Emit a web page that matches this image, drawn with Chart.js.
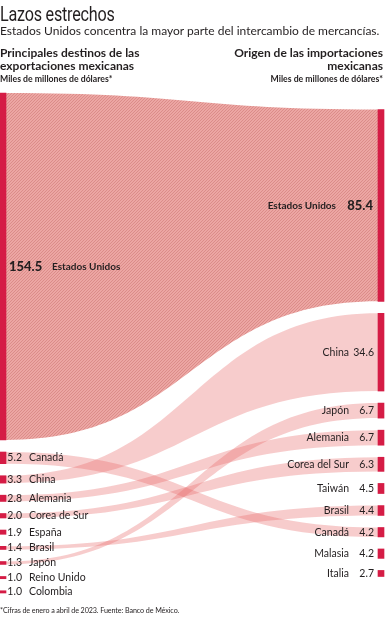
<!DOCTYPE html>
<html lang="es">
<head>
<meta charset="utf-8">
<title>Lazos estrechos</title>
<script src="https://cdn.jsdelivr.net/npm/chart.js@4"></script>
<style>
  body { margin: 0; background: #fff; font-family: Lato, "Open Sans", sans-serif; color: #231f20; }
  #wrap { position: relative; width: 386px; height: 620px; overflow: hidden; }
  #chartBox { position: absolute; left: 0; top: 0; width: 386px; height: 620px; }
  .t { position: absolute; white-space: nowrap; }
  #title { left: 0; top: 4px; font: 400 21px/21px Roboto, sans-serif; transform: scaleX(0.77); transform-origin: left top; letter-spacing: -0.3px; }
  #sub { left: 0; top: 25px; font: 400 12px/12px Lato, sans-serif; }
  .head { top: 47px; font: 700 12px/12.5px Lato, sans-serif; }
  .unit { top: 75px; font: 700 8.7px/8.7px Lato, sans-serif; }
  #foot { left: 0; top: 607px; font: 400 7.2px/7.5px Lato, sans-serif; letter-spacing: -0.1px; }
</style>
</head>
<body>
<div id="wrap">
  <div id="chartBox"><canvas id="sankey"></canvas></div>
  <div class="t" id="title">Lazos estrechos</div>
  <div class="t" id="sub">Estados Unidos concentra la mayor parte del intercambio de mercancías.</div>
  <div class="t head" style="left:0">Principales destinos de las<br>exportaciones mexicanas</div>
  <div class="t unit" style="left:0">Miles de millones de dólares*</div>
  <div class="t head" style="right:3px;text-align:right">Origen de las importaciones<br>mexicanas</div>
  <div class="t unit" style="right:3px;text-align:right">Miles de millones de dólares*</div>
  <div class="t" id="foot">*Cifras de enero a abril de 2023. Fuente: Banco de México.</div>
</div>
<script>
// exports by destination (left) and imports by origin (right), billions of dollars
const expCountries = ["Estados Unidos", "Canadá", "China", "Alemania", "Corea de Sur", "España", "Brasil", "Japón", "Reino Unido", "Colombia"];
const expValues = [154.5, 5.2, 3.3, 2.8, 2.0, 1.9, 1.4, 1.3, 1.0, 1.0];
const impCountries = ["Estados Unidos", "China", "Japón", "Alemania", "Corea del Sur", "Taiwán", "Brasil", "Canadá", "Malasia", "Italia"];
const impValues = [85.4, 34.6, 6.7, 6.7, 6.3, 4.5, 4.4, 4.2, 4.2, 2.7];
// which left node links to which right node
const flowFrom = ["Estados Unidos", "Canadá", "China", "Alemania", "Corea de Sur", "Brasil", "Japón"];
const flowTo = ["Estados Unidos", "Canadá", "China", "Alemania", "Corea del Sur", "Brasil", "Japón"];

const GAP = 5.36;   // space between nodes, in value units
const BAR = 6;      // node bar width in px
const NODE_COLOR = "#d51c45";
const FLOW_COLOR = "rgba(232, 105, 105, 0.34)";
const TEXT = "#231f20";

const sum = arr => arr.reduce((a, b) => a + b, 0);
const leftSpan = sum(expValues) + GAP * (expValues.length - 1);
const rightSpan = sum(impValues) + GAP * (impValues.length - 1);

function stack(values, start) {
  let y = start;
  return values.map(v => {
    const r = [y, y + v];
    y += v + GAP;
    return r;
  });
}
const leftNodes = stack(expValues, 0);
const rightNodes = stack(impValues, (leftSpan - rightSpan) / 2);

function makeHatch() {
  const c = document.createElement("canvas");
  c.width = 6; c.height = 6;
  const g = c.getContext("2d");
  g.fillStyle = "#eca6a3";
  g.fillRect(0, 0, 6, 6);
  g.strokeStyle = "#db8c89";
  g.lineWidth = 1;
  g.beginPath();
  for (let k = -6; k <= 12; k += 3) {
    g.moveTo(k, 6);
    g.lineTo(k + 6, 0);
  }
  g.stroke();
  return g.createPattern(c, "repeat");
}

const flowPlugin = {
  id: "flows",
  beforeDatasetsDraw(chart) {
    const { ctx, scales: { x, y } } = chart;
    const x0 = x.getPixelForValue(0) + BAR / 2;
    const x1 = x.getPixelForValue(1) - BAR / 2;
    const xm = (x0 + x1) / 2;
    const hatch = makeHatch();
    ctx.save();
    flowFrom.forEach((from, i) => {
      const l = leftNodes[expCountries.indexOf(from)];
      const r = rightNodes[impCountries.indexOf(flowTo[i])];
      const la = y.getPixelForValue(l[0]), lb = y.getPixelForValue(l[1]);
      const ra = y.getPixelForValue(r[0]), rb = y.getPixelForValue(r[1]);
      ctx.beginPath();
      ctx.moveTo(x0, la);
      ctx.bezierCurveTo(xm, la, xm, ra, x1, ra);
      ctx.lineTo(x1, rb);
      ctx.bezierCurveTo(xm, rb, xm, lb, x0, lb);
      ctx.closePath();
      ctx.fillStyle = i === 0 ? hatch : FLOW_COLOR;
      ctx.fill();
    });
    ctx.restore();
  }
};

const labelPlugin = {
  id: "nodeLabels",
  afterDatasetsDraw(chart) {
    const { ctx, scales: { x, y } } = chart;
    const xl = x.getPixelForValue(0) + BAR / 2;
    const xr = x.getPixelForValue(1) - BAR / 2;
    ctx.save();
    ctx.fillStyle = TEXT;
    ctx.textBaseline = "middle";
    leftNodes.forEach((n, i) => {
      const cy = y.getPixelForValue((n[0] + n[1]) / 2);
      if (i === 0) {
        ctx.textAlign = "left";
        ctx.font = "900 13px Lato";
        ctx.fillText(expValues[i].toFixed(1), xl + 3, cy);
        ctx.font = "700 10px Lato";
        ctx.fillText(expCountries[i], xl + 46, cy);
      } else {
        ctx.font = "400 10.5px Lato";
        ctx.textAlign = "right";
        ctx.fillText(expValues[i].toFixed(1), xl + 16, cy);
        ctx.textAlign = "left";
        ctx.fillText(expCountries[i], xl + 23, cy);
      }
    });
    rightNodes.forEach((n, i) => {
      const cy = y.getPixelForValue((n[0] + n[1]) / 2);
      ctx.textAlign = "right";
      if (i === 0) {
        ctx.font = "900 13px Lato";
        ctx.fillText(impValues[i].toFixed(1), xr - 5, cy);
        ctx.font = "700 10px Lato";
        ctx.fillText(impCountries[i], xr - 42, cy);
      } else {
        ctx.font = "400 10.5px Lato";
        ctx.fillText(impValues[i].toFixed(1), xr - 4, cy);
        ctx.fillText(impCountries[i], xr - 29, cy);
      }
    });
    ctx.restore();
  }
};

const nodeData = leftNodes.map(r => ({ x: 0, y: r })).concat(rightNodes.map(r => ({ x: 1, y: r })));

new Chart(document.getElementById("sankey").getContext("2d"), {
  type: "bar",
  data: {
    datasets: [
      {
        data: nodeData,
        backgroundColor: NODE_COLOR,
        barThickness: BAR,
        borderWidth: 0,
        clip: false,
      },
    ],
  },
  options: {
    responsive: true,
    maintainAspectRatio: false,
    animation: false,
    layout: { padding: { top: 93, bottom: 27, left: 3, right: 5 } },
    plugins: { legend: { display: false }, tooltip: { enabled: false } },
    scales: {
      x: { type: "linear", min: 0, max: 1, offset: false, display: false },
      y: { type: "linear", min: 0, max: leftSpan, reverse: true, display: false },
    },
  },
  plugins: [flowPlugin, labelPlugin],
});
</script>
</body>
</html>
